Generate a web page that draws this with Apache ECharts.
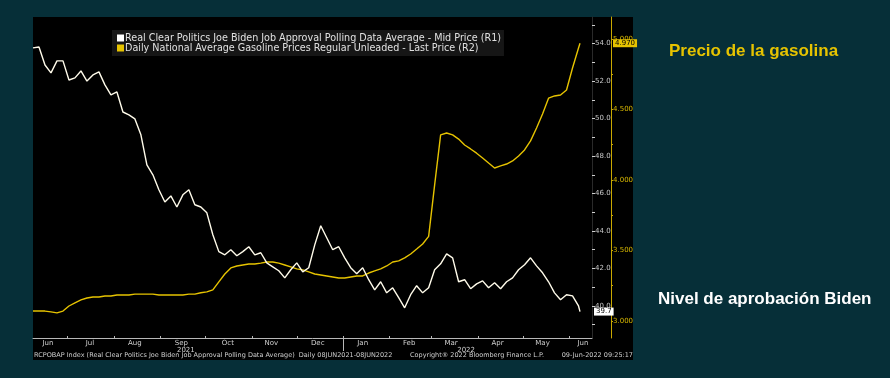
<!DOCTYPE html>
<html><head><meta charset="utf-8">
<script src="https://cdn.jsdelivr.net/npm/echarts@6/dist/echarts.min.js"></script>
<style>html,body{margin:0;padding:0;background:#062f38;}#c{width:890px;height:378px;}</style>
</head><body><div id="c"></div>
<script>
const sampleDates = [
'2021-06-08','2021-06-12','2021-06-16','2021-06-20','2021-06-24','2021-06-28',
'2021-07-02','2021-07-06','2021-07-10','2021-07-14','2021-07-18','2021-07-22','2021-07-26','2021-07-30',
'2021-08-03','2021-08-07','2021-08-11','2021-08-15','2021-08-19','2021-08-23','2021-08-27','2021-08-31',
'2021-09-04','2021-09-08','2021-09-12','2021-09-16','2021-09-20','2021-09-24','2021-09-28',
'2021-10-02','2021-10-06','2021-10-10','2021-10-14','2021-10-18','2021-10-22','2021-10-26','2021-10-30',
'2021-11-03','2021-11-07','2021-11-11','2021-11-15','2021-11-19','2021-11-23','2021-11-27',
'2021-12-01','2021-12-05','2021-12-09','2021-12-13','2021-12-17','2021-12-21','2021-12-25','2021-12-29',
'2022-01-02','2022-01-06','2022-01-10','2022-01-14','2022-01-18','2022-01-22','2022-01-26','2022-01-30',
'2022-02-03','2022-02-07','2022-02-11','2022-02-15','2022-02-19','2022-02-23','2022-02-27',
'2022-03-03','2022-03-07','2022-03-11','2022-03-15','2022-03-19','2022-03-23','2022-03-27','2022-03-31',
'2022-04-04','2022-04-08','2022-04-12','2022-04-16','2022-04-20','2022-04-24','2022-04-28',
'2022-05-02','2022-05-06','2022-05-10','2022-05-14','2022-05-18','2022-05-22','2022-05-26','2022-05-30',
'2022-06-03','2022-06-07','2022-06-08'];
const approvalValues = [
53.77,53.82,52.86,52.44,53.08,53.08,52.06,52.17,52.54,52.0,
52.33,52.49,51.8,51.26,51.42,50.35,50.2,49.98,49.13,47.53,
47.0,46.2,45.55,45.87,45.28,45.93,46.2,45.4,45.28,44.97,
43.8,42.9,42.73,43.0,42.68,42.9,43.16,42.73,42.84,42.3,
42.09,41.88,41.5,41.93,42.3,41.82,42.04,43.26,44.28,43.64,
43.0,43.16,42.57,42.04,41.72,42.04,41.4,40.86,41.29,40.7,
40.97,40.44,39.9,40.6,41.08,40.7,40.97,41.93,42.25,42.78,
42.57,41.29,41.4,40.92,41.18,41.34,40.97,41.24,40.92,41.29,
41.5,41.93,42.2,42.57,42.14,41.77,41.29,40.7,40.33,40.6,
40.54,40.0,39.7];
const gasValues = [
3.071,3.07,3.07,3.064,3.057,3.07,3.106,3.128,3.149,3.163,
3.17,3.17,3.177,3.177,3.184,3.184,3.184,3.19,3.19,3.19,
3.19,3.184,3.184,3.184,3.184,3.184,3.19,3.19,3.2,3.206,
3.22,3.277,3.333,3.376,3.39,3.397,3.404,3.404,3.41,3.418,
3.418,3.41,3.397,3.383,3.369,3.362,3.348,3.333,3.326,3.319,
3.312,3.305,3.305,3.312,3.319,3.319,3.34,3.355,3.369,3.39,
3.418,3.426,3.447,3.475,3.51,3.546,3.60,3.965,4.32,4.333,
4.32,4.29,4.248,4.22,4.19,4.156,4.12,4.085,4.1,4.113,
4.135,4.17,4.213,4.277,4.369,4.468,4.58,4.596,4.603,4.638,
4.794,4.936,4.97];
const monthTickDates = ['2021-07-01','2021-08-01','2021-09-01','2021-10-01','2021-11-01','2021-12-01','2022-01-01','2022-02-01','2022-03-01','2022-04-01','2022-05-01','2022-06-01'];
const monthLabelDates = ['2021-06-18','2021-07-16','2021-08-15','2021-09-15','2021-10-16','2021-11-14','2021-12-15','2022-01-14','2022-02-14','2022-03-14','2022-04-14','2022-05-14','2022-06-10'];
const monthLabels = ['Jun','Jul','Aug','Sep','Oct','Nov','Dec','Jan','Feb','Mar','Apr','May','Jun'];
const yearLabelDates = ['2021-09-18','2022-03-24'];
const yearLabels = ['2021','2022'];
const yearTickDates = ['2022-01-01'];
const approvalLabelValues = [40,42,44,46,48,50,52,54];
const approvalTickValues = [39,40,41,42,43,44,45,46,47,48,49,50,51,52,53,54,55];
const gasLabelValues = [3.0,3.5,4.0,4.5,5.0];
const gasTickValues = [3.0,3.25,3.5,3.75,4.0,4.25,4.5,4.75,5.0];
const approvalName = 'Real Clear Politics Joe Biden Job Approval Polling Data Average - Mid Price (R1)';
const gasName = 'Daily National Average Gasoline Prices Regular Unleaded - Last Price (R2)';
const axisStart = '2021-06-08';
const axisEnd = '2022-06-16';

const ts = s => Date.parse(s + 'T00:00:00Z');
const monthMap = {}; monthLabelDates.forEach((d,i)=>monthMap[ts(d)] = monthLabels[i]);
const yearMap = {}; yearLabelDates.forEach((d,i)=>yearMap[ts(d)] = yearLabels[i]);
const approvalData = sampleDates.map((d,i)=>[ts(d), approvalValues[i]]);
const gasData = sampleDates.map((d,i)=>[ts(d), gasValues[i]]);

const chart = echarts.init(document.getElementById('c'), null, {renderer:'canvas'});
const FONT = 'DejaVu Sans';
chart.setOption({
  backgroundColor: '#062f38',
  animation: false,
  graphic: [
    {type:'rect', z:-10, shape:{x:33, y:17, width:600, height:343}, style:{fill:'#000'}},
    {type:'text', style:{text:'RCPOBAP Index (Real Clear Politics Joe Biden Job Approval Polling Data Average)  Daily 08JUN2021-08JUN2022', x:34, y:355.5, fill:'#cfcfcf', font:'6.5px "DejaVu Sans"', textVerticalAlign:'middle'}},
    {type:'text', style:{text:'Copyright\u00ae 2022 Bloomberg Finance L.P.', x:410, y:355.5, fill:'#cfcfcf', font:'6.5px "DejaVu Sans"', textVerticalAlign:'middle'}},
    {type:'text', style:{text:'09-Jun-2022 09:25:17', x:633, y:355.5, fill:'#cfcfcf', font:'6.5px "DejaVu Sans"', textAlign:'right', textVerticalAlign:'middle'}},
    {type:'text', style:{text:'Precio de la gasolina', x:669, y:51.5, fill:'#e6c300', font:'bold 17px "Liberation Sans"', textVerticalAlign:'middle'}},
    {type:'text', style:{text:'Nivel de aprobaci\u00f3n Biden', x:658, y:299, fill:'#ffffff', font:'bold 17px "Liberation Sans"', textVerticalAlign:'middle'}}
  ],
  legend: {
    orient:'vertical', left:112, top:30, padding:[3,3,3,5], itemGap:0,
    backgroundColor:'#161616', itemWidth:7, itemHeight:7, icon:'rect',
    textStyle:{color:'#e0e0e0', fontSize:9.6, fontFamily:FONT, padding:[0,0,0,-4]},
    data:[{name:approvalName, itemStyle:{color:'#ffffff'}},{name:gasName, itemStyle:{color:'#e6c300'}}]
  },
  grid: {left:33, right:298, top:17, bottom:40},
  xAxis: [
    {type:'value', min:ts(axisStart), max:ts(axisEnd), scale:true, splitLine:{show:false},
     axisLine:{show:true, lineStyle:{color:'#b8b8b8', width:1}},
     axisTick:{show:true, inside:true, length:2, lineStyle:{color:'#b8b8b8'}, customValues: monthTickDates.map(ts)},
     axisLabel:{show:true, customValues: monthLabelDates.map(ts), formatter: v => monthMap[v] || '', color:'#d0d0d0', fontSize:7, fontFamily:FONT, margin:2}
    },
    {type:'value', min:ts(axisStart), max:ts(axisEnd), scale:true, position:'bottom', splitLine:{show:false},
     axisLine:{show:false},
     axisTick:{show:true, length:13, lineStyle:{color:'#b8b8b8'}, customValues: yearTickDates.map(ts)},
     axisLabel:{show:true, customValues: yearLabelDates.map(ts), formatter: v => yearMap[v] || '', color:'#d0d0d0', fontSize:7, fontFamily:FONT, margin:9}
    }
  ],
  yAxis: [
    {type:'value', position:'right', min:38.29, max:55.42, splitLine:{show:false},
     axisLine:{show:true, lineStyle:{color:'#2a2a2a'}},
     axisTick:{show:true, length:3, lineStyle:{color:'#cfcfcf'}, customValues: approvalTickValues},
     axisLabel:{customValues: approvalLabelValues, formatter: v => v.toFixed(1), color:'#c8c8c8', fontSize:7, fontFamily:FONT, margin:3}
    },
    {type:'value', position:'right', offset:19, min:2.879, max:5.156, splitLine:{show:false},
     axisLine:{show:true, lineStyle:{color:'#c9a800', width:1}},
     axisTick:{show:true, length:2, lineStyle:{color:'#c9a800'}, customValues: gasTickValues},
     axisLabel:{customValues: gasLabelValues, formatter: v => v.toFixed(3), color:'#d8b800', fontSize:7, fontFamily:FONT, margin:2}
    }
  ],
  series: [
    {name:approvalName, type:'line', xAxisIndex:0, yAxisIndex:0, data:approvalData, showSymbol:false,
     lineStyle:{color:'#fffbea', width:1.4}, itemStyle:{color:'#ffffff'}, z:3,
     endLabel:{show:true, distance:14, formatter: p => p.value[1].toFixed(1), backgroundColor:'#ffffff', color:'#000', fontSize:7, fontFamily:FONT, padding:[1,2,0,2]}
    },
    {name:gasName, type:'line', xAxisIndex:0, yAxisIndex:1, data:gasData, showSymbol:false,
     lineStyle:{color:'#e6c300', width:1.4}, itemStyle:{color:'#e6c300'}, z:2,
     endLabel:{show:true, distance:33, formatter: p => p.value[1].toFixed(3), backgroundColor:'#e6c300', color:'#000', fontSize:7, fontFamily:FONT, padding:[1,2,0,2]}
    }
  ]
});
</script></body></html>
